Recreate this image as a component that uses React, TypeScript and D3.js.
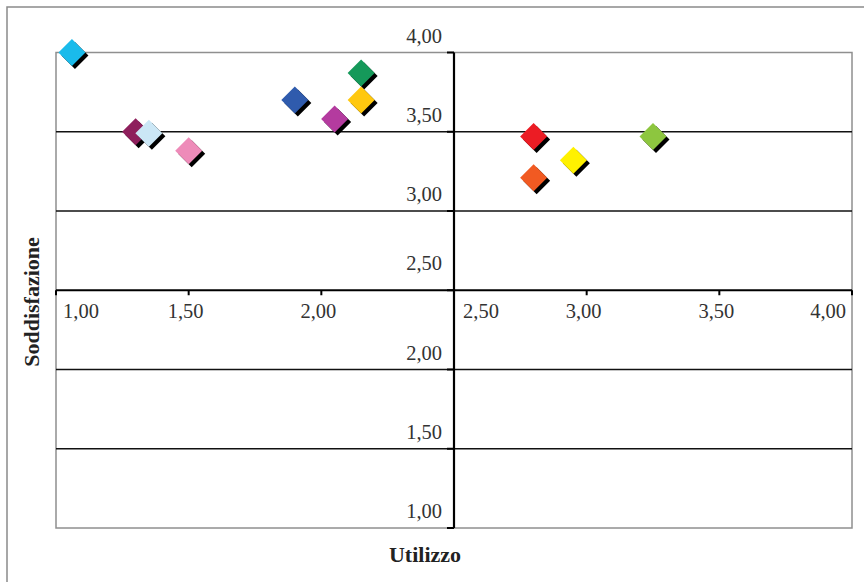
import React from "react";
import * as d3 from "d3";

const names = ["A","B","C","D","E","F","G","H","I","J","K","L"];
const utilizzo = [1.06, 1.30, 1.35, 1.50, 1.90, 2.05, 2.15, 2.15, 2.80, 2.80, 2.95, 3.25];
const soddisfazione = [4.00, 3.50, 3.49, 3.38, 3.70, 3.58, 3.87, 3.70, 3.47, 3.21, 3.32, 3.47];
const colors = ["#1ABBEB","#8E1F5C","#CBE7F6","#EE8BB9","#2F5BAD","#B43B9F","#15995A","#FFC80F","#EC1C24","#F15A22","#FFF100","#8DC63F"];
const xTicks = [1.0, 1.5, 2.0, 2.5, 3.0, 3.5, 4.0];
const yTicks = [1.0, 1.5, 2.0, 2.5, 3.0, 3.5, 4.0];
const gridValues = [1.5, 2.0, 3.0, 3.5];

const fmt = (v: number) => v.toFixed(2).replace(".", ",");

export default function App() {
  const W = 864, H = 582;
  const x = d3.scaleLinear().domain([1, 4]).range([56, 852]);
  const y = d3.scaleLinear().domain([1, 4]).range([528, 52.5]);
  const ax = x(2.5);
  const ay = y(2.5);
  const r = 13.5;
  const diamond = (cx: number, cy: number) => `M${cx},${cy - r}L${cx + r},${cy}L${cx},${cy + r}L${cx - r},${cy}Z`;
  const font = "'Liberation Serif', 'Times New Roman', serif";

  const xLabelPos = (v: number) => {
    if (v === 1) return { x: x(v) + 7, anchor: "start" };
    if (v === 2.5) return { x: x(v) + 9, anchor: "start" };
    if (v === 4) return { x: x(v) - 6, anchor: "end" };
    return { x: x(v) - 3, anchor: "middle" };
  };

  return (
    <svg width={W} height={H} style={{ position: "absolute", left: 0, top: 0, background: "#fff" }}>
      <rect x={7} y={7} width={W} height={H} fill="#fff" stroke="#8a8a8a" strokeWidth={1.5} />
      <rect x={x(1)} y={y(4)} width={x(4) - x(1)} height={y(1) - y(4)} fill="none" stroke="#8f8f8f" strokeWidth={1.5} />
      {gridValues.map(v => (
        <line key={v} x1={x(1)} x2={x(4)} y1={y(v)} y2={y(v)} stroke="#111" strokeWidth={1.4} />
      ))}
      <line x1={x(1)} x2={x(4)} y1={ay} y2={ay} stroke="#000" strokeWidth={2.2} />
      <line x1={ax} x2={ax} y1={y(4)} y2={y(1)} stroke="#000" strokeWidth={2.2} />
      {xTicks.map(v => (
        <line key={"xt" + v} x1={x(v)} x2={x(v)} y1={ay} y2={ay + 5} stroke="#000" strokeWidth={2} />
      ))}
      {yTicks.map(v => (
        <line key={"yt" + v} x1={ax - 7} x2={ax} y1={y(v)} y2={y(v)} stroke="#000" strokeWidth={2} />
      ))}
      {xTicks.map(v => {
        const p = xLabelPos(v);
        return (
          <text key={"xl" + v} x={p.x} y={ay + 28} textAnchor={p.anchor as any} fontFamily={font} fontSize={20.5} fill="#333">{fmt(v)}</text>
        );
      })}
      {yTicks.map(v => (
        <text key={"yl" + v} x={ax - 12} y={y(v) - (v === 2.5 ? 20 : 10)} textAnchor="end" fontFamily={font} fontSize={20.5} fill="#333">{fmt(v)}</text>
      ))}
      {utilizzo.map((u, i) => {
        const cx = x(u), cy = y(soddisfazione[i]);
        return (
          <g key={names[i]}>
            <path d={diamond(cx + 3, cy + 3)} fill="#000" />
            <path d={diamond(cx, cy)} fill={colors[i]} />
          </g>
        );
      })}
      <text x={425} y={562} textAnchor="middle" fontFamily={font} fontWeight="bold" fontSize={22} fill="#222">Utilizzo</text>
      <text transform={`translate(39,302) rotate(-90)`} textAnchor="middle" fontFamily={font} fontWeight="bold" fontSize={22} fill="#222">Soddisfazione</text>
    </svg>
  );
}
